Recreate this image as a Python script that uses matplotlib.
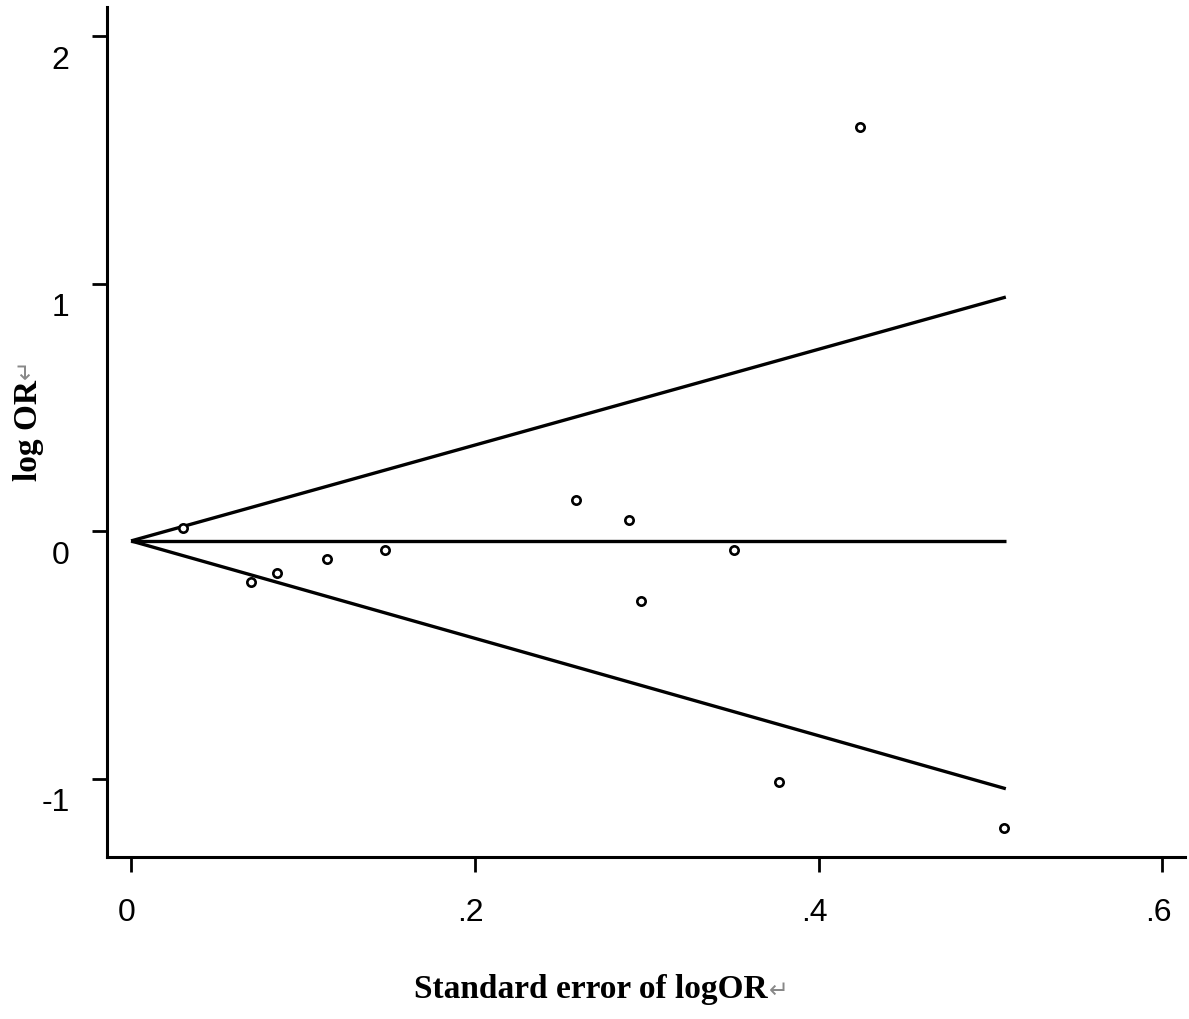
import matplotlib
matplotlib.use("Agg")
import matplotlib.pyplot as plt
import matplotlib.transforms as mtransforms

# Study data (standard error of logOR, logOR)
se = [0.030, 0.070, 0.085, 0.114, 0.148, 0.259, 0.290, 0.297, 0.351, 0.377, 0.424, 0.508]
log_or = [0.014, -0.204, -0.168, -0.111, -0.075, 0.127, 0.046, -0.281, -0.075, -1.011, 1.633, -1.197]

# Funnel (pooled estimate and 95% pseudo-confidence limits)
funnel_se = [0.0, 0.509]
funnel_center = [-0.039, -0.039]
funnel_upper = [-0.039, 0.946]
funnel_lower = [-0.039, -1.040]

xticks = [0, 0.2, 0.4, 0.6]
xtick_labels = ["0", ".2", ".4", ".6"]
yticks = [-1, 0, 1, 2]
ytick_labels = ["-1", "0", "1", "2"]

fig = plt.figure(figsize=(11.89, 10.20), dpi=100)
ax = fig.add_axes([0.090, 0.159, 0.907, 0.833])

ax.plot(funnel_se, funnel_upper, color="black", lw=2.4, solid_capstyle="butt")
ax.plot(funnel_se, funnel_lower, color="black", lw=2.4, solid_capstyle="butt")
ax.plot(funnel_se, funnel_center, color="black", lw=2.4, solid_capstyle="butt")
ax.plot(se, log_or, linestyle="none", marker="o", ms=6, mfc="white",
        mec="black", mew=1.9)

ax.set_xlim(-0.014, 0.6135)
ax.set_ylim(-1.315, 2.117)

for s in ["top", "right"]:
    ax.spines[s].set_visible(False)
for s in ["left", "bottom"]:
    ax.spines[s].set_linewidth(2.2)

ax.set_xticks(xticks)
ax.set_xticklabels(xtick_labels)
ax.set_yticks(yticks)
ax.set_yticklabels(ytick_labels)
ax.tick_params(axis="both", direction="out", length=11, width=2.0,
               labelsize=23, colors="black")
ax.tick_params(axis="x", pad=18)
ax.tick_params(axis="y", pad=16)
for lab in ax.get_xticklabels() + ax.get_yticklabels():
    lab.set_fontfamily("Liberation Sans")

# Shift tick labels slightly as in the reference
offset = mtransforms.ScaledTranslation(0, -0.20, fig.dpi_scale_trans)
for lab in ax.get_yticklabels():
    lab.set_transform(lab.get_transform() + offset)
offx = mtransforms.ScaledTranslation(-0.04, 0, fig.dpi_scale_trans)
for lab in ax.get_xticklabels():
    lab.set_transform(lab.get_transform() + offx)

# Axis titles with the grey return mark
xt = fig.text(0.497, 0.022, "Standard error of logOR", family="Liberation Serif",
              fontweight="bold", fontsize=24, ha="center", va="baseline")
yt = fig.text(0.024, 0.578, "log OR", family="Liberation Serif",
              fontweight="bold", fontsize=24, ha="center", va="center",
              rotation=90)
fig.canvas.draw()
r = fig.canvas.get_renderer()
bx = xt.get_window_extent(r)
fig.text((bx.x1 + 1) / fig.bbox.width, 0.022, "\u21b5", family="DejaVu Sans",
         color="#888888", fontsize=17, ha="left", va="baseline")
by = yt.get_window_extent(r)
fig.text(0.0215, (by.y1 + 1) / fig.bbox.height, "\u21b5", family="DejaVu Sans",
         color="#888888", fontsize=17, ha="center", va="bottom", rotation=90)

fig.savefig("out.png", dpi=100)
